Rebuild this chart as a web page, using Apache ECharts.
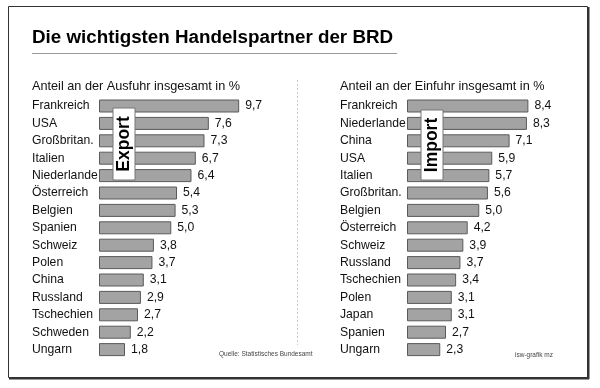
<!DOCTYPE html>
<html><head><meta charset="utf-8">
<script src="https://cdn.jsdelivr.net/npm/echarts@6/dist/echarts.min.js"></script>
<style>html,body{margin:0;padding:0;background:#fff}#c{width:600px;height:388px}</style>
</head><body><div id="c"></div>
<script>
const exportCountries = ["Frankreich","USA","Großbritan.","Italien","Niederlande","Österreich","Belgien","Spanien","Schweiz","Polen","China","Russland","Tschechien","Schweden","Ungarn"];
const exportValues = [9.7,7.6,7.3,6.7,6.4,5.4,5.3,5.0,3.8,3.7,3.1,2.9,2.7,2.2,1.8];
const importCountries = ["Frankreich","Niederlande","China","USA","Italien","Großbritan.","Belgien","Österreich","Schweiz","Russland","Tschechien","Polen","Japan","Spanien","Ungarn"];
const importValues = [8.4,8.3,7.1,5.9,5.7,5.6,5.0,4.2,3.9,3.7,3.4,3.1,3.1,2.7,2.3];
const titleText = "Die wichtigsten Handelspartner der BRD";
const exportSubtitle = "Anteil an der Ausfuhr insgesamt in %";
const importSubtitle = "Anteil an der Einfuhr insgesamt in %";
const sourceText = "Quelle: Statistisches Bundesamt";
const creditText = "isw-grafik mz";

const FONT = "'Liberation Sans', Arial, sans-serif";
const chart = echarts.init(document.getElementById('c'), null, {renderer:'canvas'});
const fmt = p => p.value.toFixed(1).replace('.', ',');
function yAx(gi, cats){
  return {type:'category', gridIndex:gi, data:cats, inverse:true,
    axisLine:{show:false}, axisTick:{show:false},
    axisLabel:{align:'left', margin:67, color:'#111', fontSize:12.2, fontFamily:FONT}};
}
function xAx(gi){
  return {type:'value', gridIndex:gi, min:0, max:10, show:false, splitLine:{show:false}};
}
function ser(gi, vals){
  return {type:'bar', xAxisIndex:gi, yAxisIndex:gi, data:vals, barWidth:13,
    itemStyle:{color:'#a3a3a3', borderColor:'#5a5a5a', borderWidth:1},
    label:{show:true, position:'right', distance:6, formatter:fmt, color:'#111', fontSize:12.2, fontFamily:FONT},
    silent:true, animation:false};
}
function tagBox(x, y, w, h, txt){
  return [
    {type:'rect', shape:{x:x, y:y, width:w, height:h}, style:{fill:'#fff', stroke:'#777', lineWidth:1}, z:100},
    {type:'text', x:x + w/2, y:y + h/2, rotation:Math.PI/2,
      style:{text:txt, fill:'#000', font:'bold 17.5px ' + FONT, textAlign:'center', textVerticalAlign:'middle'}, z:101}
  ];
}
chart.setOption({
  animation:false,
  grid:[
    {left:99, top:97.3, width:144.5, height:261},
    {left:407, top:97.3, width:144.5, height:261}
  ],
  xAxis:[xAx(0), xAx(1)],
  yAxis:[yAx(0, exportCountries), yAx(1, importCountries)],
  series:[ser(0, exportValues), ser(1, importValues)],
  graphic:[
    {type:'rect', shape:{x:8.5, y:6.5, width:579, height:371}, style:{fill:null, stroke:'#333', lineWidth:1}},
    {type:'line', shape:{x1:588.5, y1:7, x2:588.5, y2:379}, style:{stroke:'#333', lineWidth:2}},
    {type:'line', shape:{x1:9, y1:378.5, x2:589, y2:378.5}, style:{stroke:'#333', lineWidth:2}},
    {type:'text', x:32, y:38, style:{text:titleText, fill:'#000', font:'bold 18.8px ' + FONT, textVerticalAlign:'middle'}},
    {type:'line', shape:{x1:32, y1:53.5, x2:397, y2:53.5}, style:{stroke:'#999', lineWidth:1}},
    {type:'text', x:32, y:86, style:{text:exportSubtitle, fill:'#111', font:'12.7px ' + FONT, textVerticalAlign:'middle'}},
    {type:'text', x:340, y:86, style:{text:importSubtitle, fill:'#111', font:'12.7px ' + FONT, textVerticalAlign:'middle'}},
    {type:'line', shape:{x1:297.5, y1:80, x2:297.5, y2:345}, style:{stroke:'#ccc', lineWidth:1, lineDash:[2,2]}},
    {type:'text', x:219, y:354, style:{text:sourceText, fill:'#444', font:'6.5px ' + FONT, textVerticalAlign:'middle'}},
    {type:'text', x:515, y:355, style:{text:creditText, fill:'#444', font:'6.5px ' + FONT, textVerticalAlign:'middle'}}
  ].concat(tagBox(113, 108, 22, 72, 'Export')).concat(tagBox(421, 110, 22, 70, 'Import'))
});
</script></body></html>
